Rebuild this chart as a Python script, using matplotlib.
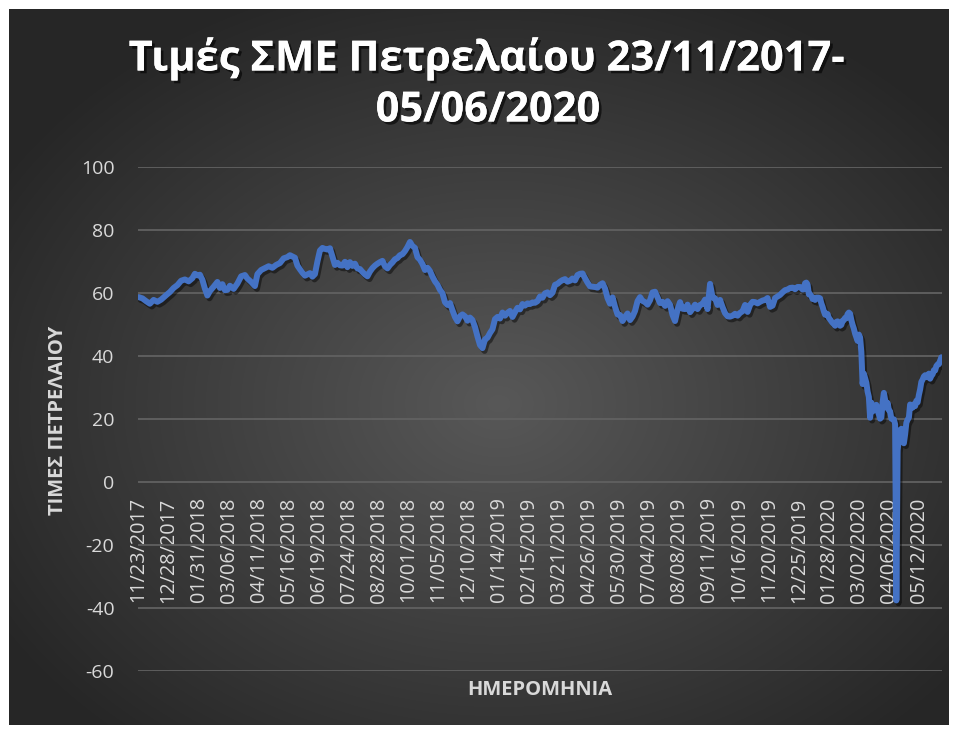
import numpy as np
import matplotlib.pyplot as plt
import matplotlib.patheffects as pe

plt.rcParams['font.family'] = ['Open Sans', 'DejaVu Sans']
plt.rcParams['axes.unicode_minus'] = False

# trading-day index (category position) and WTI price
day = [0, 3, 6, 9, 12, 15, 18, 22, 25, 28, 31, 34, 37, 40, 43, 45, 47, 49, 51, 53,
       55, 57, 60, 63, 65, 67, 69, 71, 73, 76, 79, 82, 85, 87, 90, 93, 95, 98, 101, 104,
       107, 110, 113, 116, 119, 121, 123, 125, 127, 129, 131, 133, 135, 137, 139, 141, 143, 145, 147, 149,
       151, 153, 155, 157, 159, 161, 163, 165, 167, 169, 171, 173, 175, 177, 179, 181, 183, 185, 187, 189,
       191, 193, 195, 197, 199, 201, 203, 205, 207, 209, 211, 213, 215, 217, 219, 221, 223, 225, 227, 229,
       231, 233, 235, 237, 239, 241, 243, 245, 247, 249, 251, 253, 255, 257, 259, 261, 263, 265, 267, 269,
       271, 273, 275, 277, 279, 281, 283, 285, 287, 289, 291, 293, 295, 297, 299, 301, 303, 305, 307, 309,
       311, 313, 315, 317, 319, 321, 323, 325, 327, 329, 331, 333, 335, 337, 339, 341, 343, 345, 347, 349,
       351, 353, 355, 357, 359, 361, 363, 365, 367, 369, 371, 373, 375, 377, 379, 381, 383, 385, 387, 389,
       391, 393, 395, 397, 399, 401, 403, 405, 407, 409, 411, 413, 415, 417, 419, 421, 423, 425, 427, 429,
       431, 433, 435, 437, 439, 441, 443, 445, 447, 449, 451, 453, 455, 457, 459, 461, 463, 465, 467, 469,
       471, 473, 475, 477, 479, 481, 483, 485, 487, 489, 491, 493, 495, 497, 499, 501, 503, 505, 507, 509,
       511, 513, 515, 517, 519, 521, 523, 525, 527, 529, 531, 532, 533, 534, 535, 536, 537, 538, 539, 540,
       541, 542, 543, 544, 545, 546, 547, 548, 549, 550, 551, 552, 553, 554, 555, 556, 557, 558, 559, 560,
       561, 562, 563, 564, 565, 566, 567, 568, 569, 570, 571, 572, 573, 574, 575, 576, 577, 578, 579, 580,
       581, 582, 583, 584, 585, 586, 587, 588, 589, 590, 591, 592, 593, 594, 595, 596, 597, 598, 599, 600,
       601, 602, 603, 604, 605, 606, 607, 608, 609, 610, 611, 612, 613, 614, 615, 616, 617, 618, 619, 620,
       621, 622, 623, 624, 625, 626, 627, 628, 629, 630, 631, 632, 633, 634, 635, 636, 637, 638, 639, 640,
       641, 642]

price = [58.7, 58.3, 57.4, 56.6, 57.8, 57.2, 57.9, 59.3, 60.3, 61.6, 62.5, 63.9, 64.3, 63.7, 64.7, 66.1, 65.6, 65.8, 64.2, 61.4,
         59.2, 60.6, 62.0, 63.5, 61.6, 62.8, 60.9, 61.0, 62.3, 61.3, 63.0, 65.3, 65.7, 64.6, 63.5, 62.2, 66.0, 67.3, 67.9, 68.5,
         68.0, 68.9, 69.5, 71.0, 71.4, 72.0, 71.6, 71.2, 68.7, 67.5, 66.4, 65.5, 65.9, 66.3, 65.2, 66.0, 70.0, 73.5, 74.3, 74.0,
         73.8, 74.2, 71.5, 68.9, 69.6, 68.8, 68.7, 69.9, 68.2, 69.8, 68.6, 69.3, 67.8, 67.6, 66.7, 65.9, 65.3, 66.8, 67.9, 68.7,
         69.3, 69.8, 70.2, 68.5, 67.8, 68.9, 69.7, 70.7, 71.1, 72.0, 72.3, 73.3, 74.6, 76.2, 75.0, 74.3, 71.4, 70.5, 69.2, 67.3,
         68.0, 67.0, 65.2, 63.7, 62.6, 61.0, 59.9, 57.1, 56.2, 56.8, 54.5, 52.4, 51.0, 52.6, 53.2, 52.6, 51.2, 52.2, 51.4, 49.2,
         46.2, 43.5, 42.5, 45.3, 45.8, 47.3, 48.5, 51.7, 52.4, 51.9, 53.8, 52.8, 53.7, 54.3, 52.4, 53.9, 55.3, 54.8, 56.5, 56.0,
         56.7, 56.5, 57.0, 56.9, 57.4, 58.9, 58.5, 59.9, 60.2, 59.3, 60.1, 62.6, 62.9, 63.6, 64.1, 64.4, 63.6, 63.9, 64.6, 64.0,
         65.7, 66.1, 66.2, 64.7, 63.3, 62.1, 62.0, 61.9, 61.7, 62.6, 63.1, 61.4, 58.4, 56.6, 58.6, 55.6, 53.2, 53.0, 51.1, 52.4,
         53.5, 51.4, 52.5, 54.3, 57.4, 58.7, 57.5, 57.1, 56.3, 57.7, 60.2, 60.4, 58.6, 56.8, 57.2, 55.9, 57.4, 56.3, 53.0, 51.1,
         54.7, 57.1, 55.0, 54.9, 56.3, 53.9, 55.0, 56.3, 54.9, 56.2, 56.5, 57.9, 54.9, 62.9, 58.6, 58.3, 56.2, 57.8, 55.5, 53.6,
         52.6, 52.5, 52.8, 53.4, 52.8, 53.7, 54.2, 56.2, 54.0, 56.2, 57.2, 57.1, 56.7, 57.2, 57.6, 57.8, 58.4, 55.6, 56.0, 58.4,
         58.9, 59.4, 60.2, 60.9, 61.1, 61.6, 61.7, 61.2, 61.9, 61.9, 61.1, 61.2, 63.1, 63.3, 62.7, 59.6, 59.6, 59.0, 58.1, 58.2,
         57.8, 58.5, 58.5, 58.5, 58.3, 56.7, 55.6, 54.2, 53.1, 53.5, 53.3, 52.1, 51.6, 51.0, 50.5, 50.1, 49.6, 50.8, 51.0, 50.3,
         49.6, 49.9, 51.2, 51.4, 52.1, 52.0, 53.3, 53.8, 53.4, 51.4, 49.9, 48.7, 47.1, 46.0, 44.8, 46.8, 45.9, 41.3, 31.1, 34.4,
         33.0, 31.5, 28.7, 27.0, 20.4, 25.2, 22.4, 23.4, 24.0, 24.5, 22.6, 21.5, 20.1, 20.5, 25.3, 28.3, 26.1, 23.6, 25.1, 22.8,
         22.4, 20.1, 19.9, 19.9, 18.3, -37.6, 10.0, 13.8, 16.5, 16.9, 12.8, 12.3, 15.1, 18.8, 19.8, 20.4, 24.6, 24.0, 23.6, 24.7,
         24.1, 25.8, 25.3, 27.6, 29.4, 31.8, 32.5, 33.5, 33.9, 33.3, 33.3, 34.4, 32.8, 33.7, 34.2, 35.5, 35.4, 36.8, 37.3, 37.4,
         38.5, 39.6]

tick_labels = ['11/23/2017', '12/28/2017', '01/31/2018', '03/06/2018', '04/11/2018', '05/16/2018',
               '06/19/2018', '07/24/2018', '08/28/2018', '10/01/2018', '11/05/2018', '12/10/2018',
               '01/14/2019', '02/15/2019', '03/21/2019', '04/26/2019', '05/30/2019', '07/04/2019',
               '08/08/2019', '09/11/2019', '10/16/2019', '11/20/2019', '12/25/2019', '01/28/2020',
               '03/02/2020', '04/06/2020', '05/12/2020']
label_step = 24
n_days = 643

W, H = 956, 733
fig = plt.figure(figsize=(W / 100, H / 100), dpi=100)
fig.patch.set_facecolor('white')

# dark chart area with a soft radial gradient (Excel style)
bg = fig.add_axes([9 / W, 8 / H, 940 / W, 716 / H])
h, w = 358, 470
yy, xx = np.mgrid[0:h, 0:w]
r = np.sqrt(((xx - 0.52 * w) / (0.62 * w)) ** 2 + ((yy - 0.55 * h) / (0.62 * h)) ** 2)
g = 0.345 - 0.195 * np.clip(r, 0, 1)
bg.imshow(np.dstack([g, g, g]), aspect='auto', interpolation='bilinear')
bg.axis('off')

ax = fig.add_axes([138 / W, 1 - 671 / H, 804 / W, 504 / H])
ax.patch.set_alpha(0)
for s in ax.spines.values():
    s.set_visible(False)
# category labels sit just under the zero line, as in Excel
ax.spines['bottom'].set_position(('data', 0))

ax.plot(day, price, color='#4472C4', lw=4.3, solid_joinstyle='round', solid_capstyle='round',
        path_effects=[pe.SimpleLineShadow(offset=(1.5, -2), shadow_color='black', alpha=0.45),
                      pe.Normal()], zorder=3)

ax.set_xlim(-0.5, n_days - 0.5)
ax.set_ylim(-60, 100)
ax.set_yticks(range(-60, 101, 20))
ax.set_xticks(range(0, len(tick_labels) * label_step, label_step))
ax.set_xticklabels(tick_labels, rotation=90)
ax.grid(axis='y', color='#616161', lw=1.3)
ax.set_axisbelow(True)
ax.tick_params(axis='x', length=0, pad=11, labelsize=14.3, labelcolor='#d9d9d9')
ax.tick_params(axis='y', length=0, pad=17, labelsize=14, labelcolor='#d9d9d9')

shadow = [pe.withSimplePatchShadow(offset=(2, -2), shadow_rgbFace='black', alpha=0.6), pe.Normal()]
fig.text(487 / W, 1 - 59 / H, 'Τιμές ΣΜΕ Πετρελαίου 23/11/2017-', ha='center', va='center',
         fontsize=30, fontweight='bold', color='white', path_effects=shadow)
fig.text(488 / W, 1 - 111 / H, '05/06/2020', ha='center', va='center',
         fontsize=30, fontweight='bold', color='white', path_effects=shadow)

fig.text(58 / W, 1 - 420 / H, 'ΤΙΜΕΣ ΠΕΤΡΕΛΑΙΟΥ', rotation=90, ha='center', va='center',
         fontsize=14.5, fontweight='bold', color='#d9d9d9')
fig.text(540 / W, 1 - 690 / H, 'ΗΜΕΡΟΜΗΝΙΑ', ha='center', va='center',
         fontsize=14.5, fontweight='bold', color='#d9d9d9')

fig.savefig('out.png', dpi=100, facecolor='white')
